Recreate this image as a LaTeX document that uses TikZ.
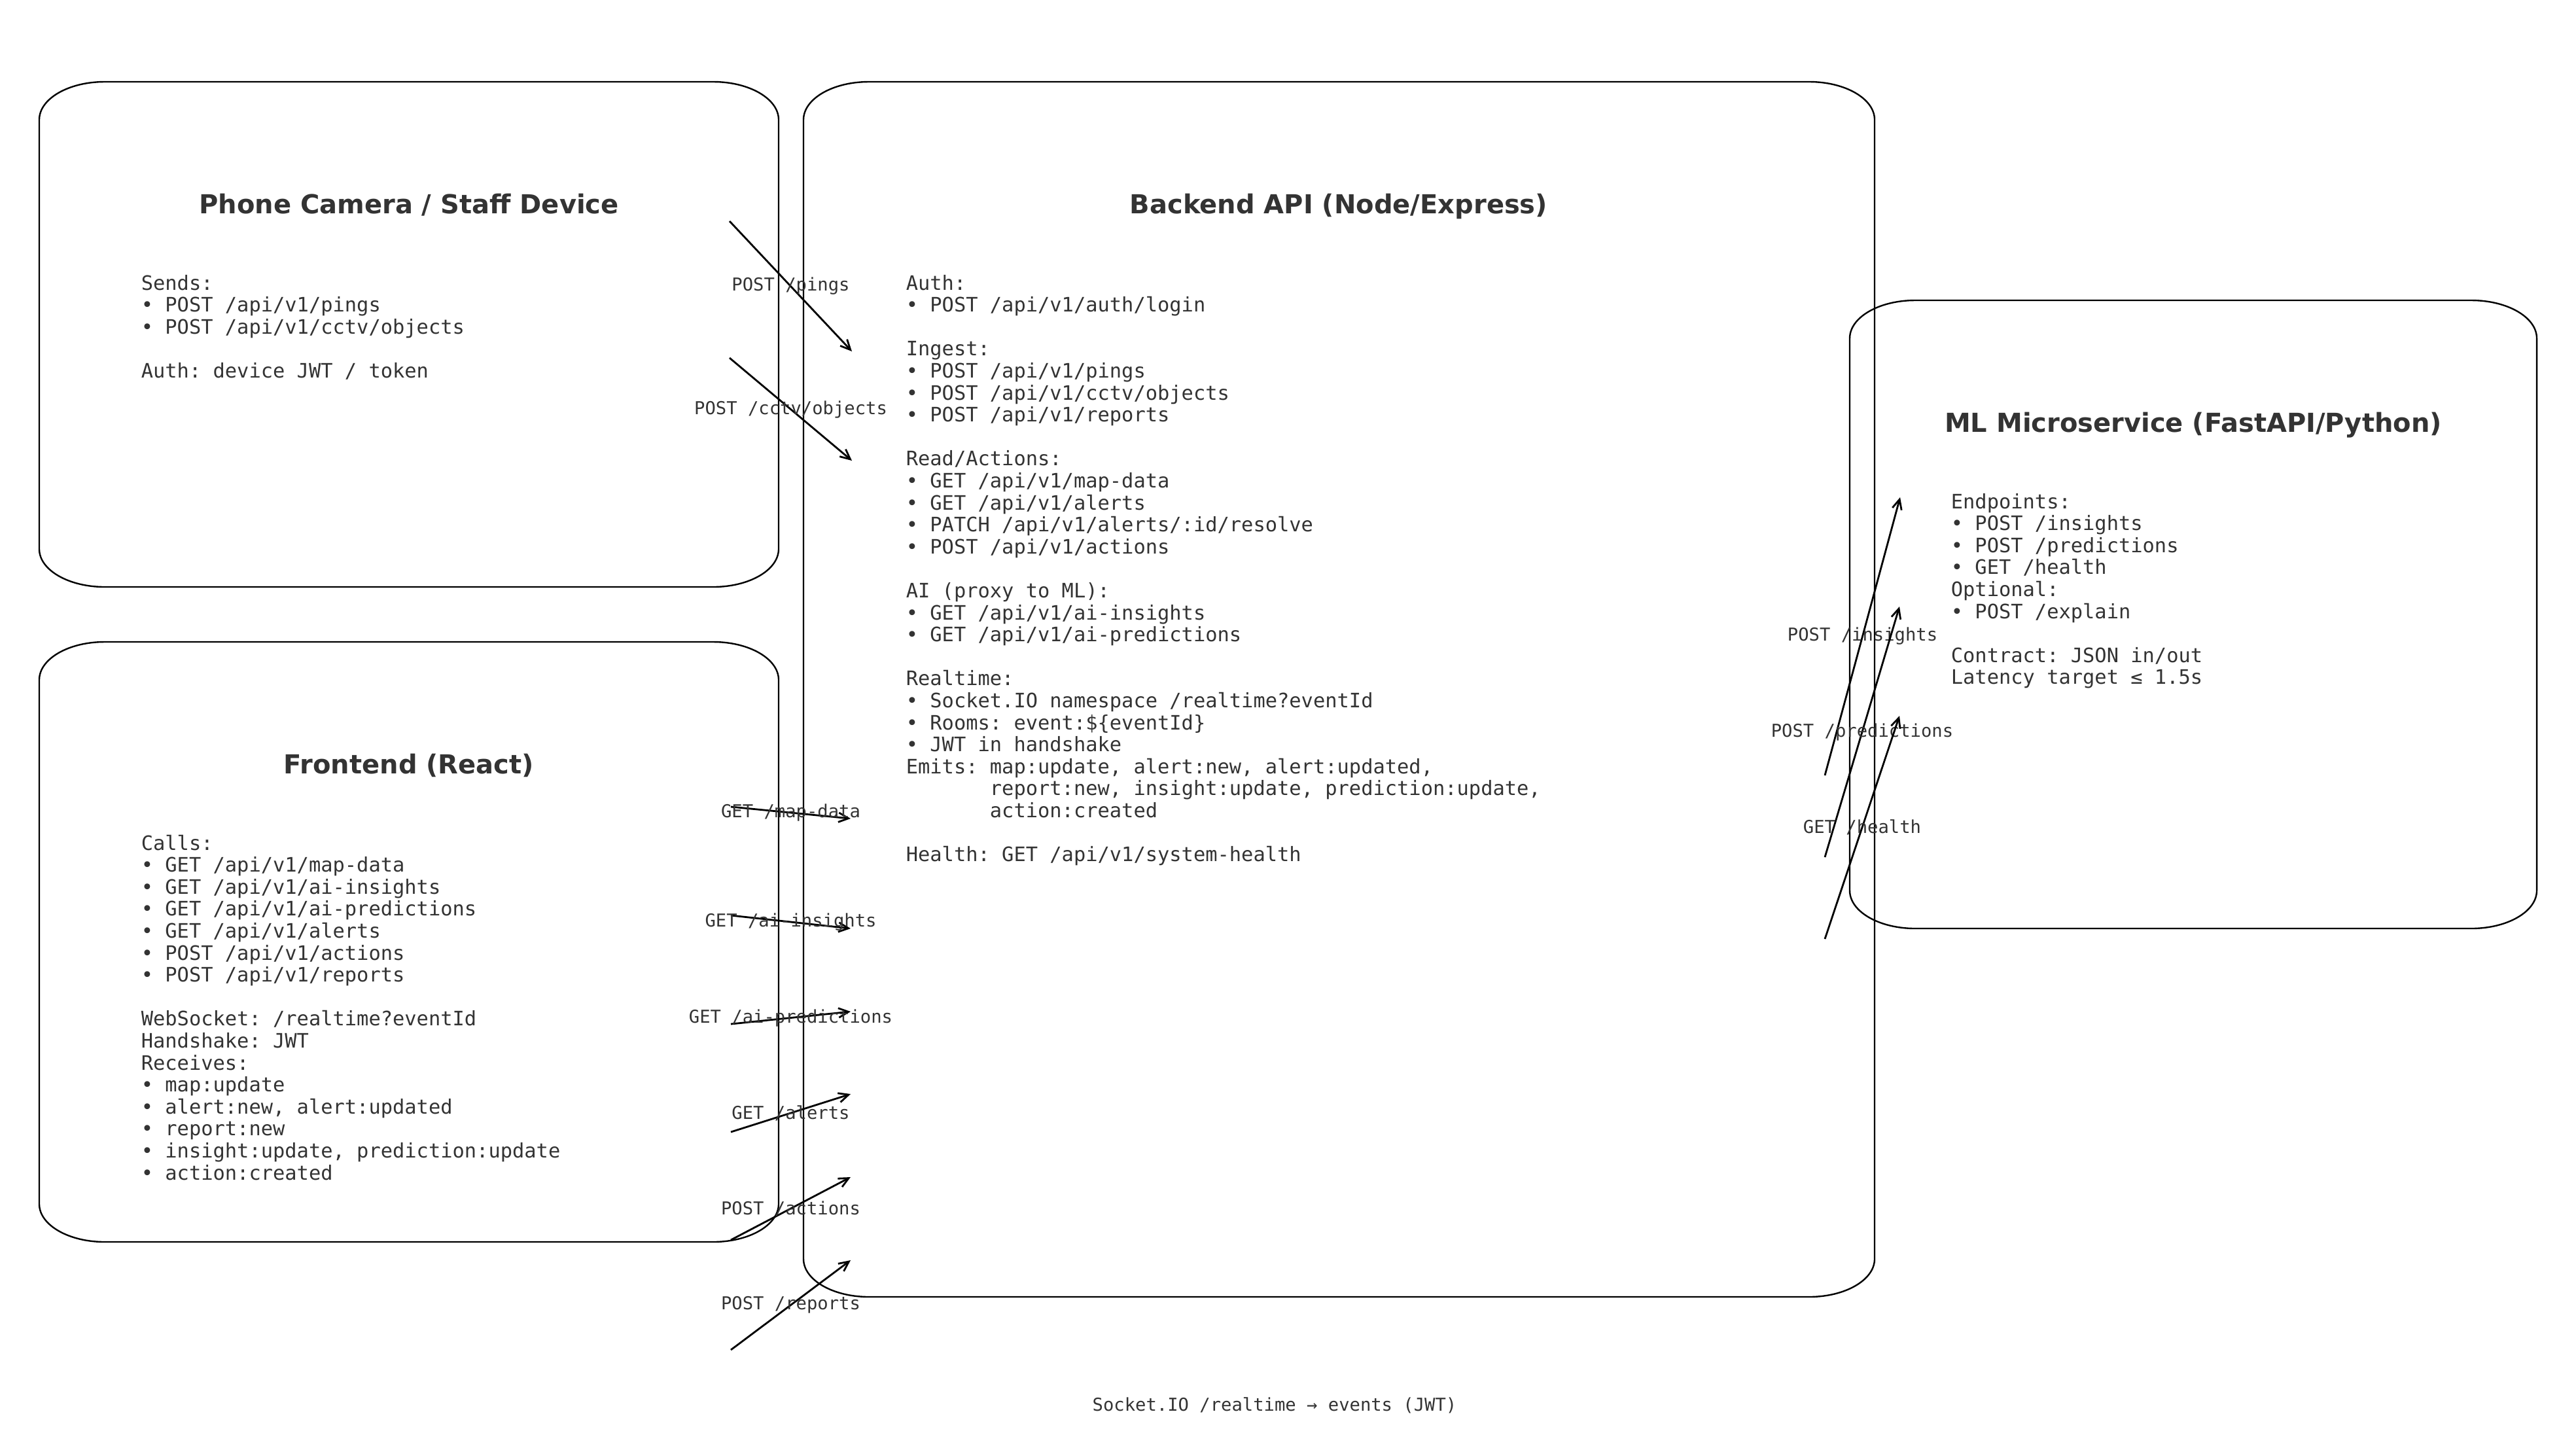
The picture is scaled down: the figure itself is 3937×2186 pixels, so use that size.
\documentclass[tikz,border=0pt]{standalone}
\usepackage{fontspec}
\setmainfont{DejaVu Sans}
\newfontfamily\monofont{DejaVu Sans Mono}
\usepackage{xcolor}
\usetikzlibrary{arrows.meta}
\definecolor{txtgray}{HTML}{333333}
\frenchspacing

\tikzset{
  boxline/.style={draw=black, line width=0.6pt},
  flow/.style={draw=black, line width=0.7pt, -{Straight Barb[length=3.8pt, width=3.6pt]}},
  ttl/.style={font=\bfseries\fontsize{10}{12}\selectfont, text=txtgray, anchor=base, inner sep=0pt},
  txt/.style={font=\monofont\fontsize{7.6}{8.4}\selectfont, text=txtgray, anchor=base west, inner sep=0pt},
  lbl/.style={font=\monofont\fontsize{6.8}{8}\selectfont, text=txtgray, inner sep=0pt},
}

% one text line of a block
\newcommand{\txl}[1]{\hbox{#1}}
% rounded box with oval corners: x1 y1 x2 y2
\newcommand{\ovbox}[4]{%
  \draw[boxline] (#1+100,#2) -- (#3-100,#2)
    arc[start angle=-90, end angle=0, x radius=100, y radius=58]
    -- (#3,#4-58)
    arc[start angle=0, end angle=90, x radius=100, y radius=58]
    -- (#1+100,#4)
    arc[start angle=90, end angle=180, x radius=100, y radius=58]
    -- (#1,#2+58)
    arc[start angle=180, end angle=270, x radius=100, y radius=58]
    -- cycle;}

\begin{document}
\begin{tikzpicture}[x=0.25pt,y=0.25pt,yscale=-1,xscale=1]
		\useasboundingbox (0,0) rectangle (3937,2186);

		%Shape: Rounded Rect (phone)
		\ovbox{60}{125}{1190}{897}
		%Shape: Rounded Rect (frontend)
		\ovbox{60}{981}{1190}{1898}
		%Shape: Rounded Rect (backend)
		\ovbox{1228}{125}{2865}{1982}
		%Shape: Rounded Rect (ml)
		\ovbox{2827}{459}{3877}{1419}

		% Text Node
		\node[ttl] (phone-ttl) at (625,326) {Phone Camera / Staff Device};
		% Text Node
		\node[txt] (phone-txt) at (215,443) {\vtop{%
			\txl{Sends:}
			\txl{• POST /api/v1/pings}
			\txl{• POST /api/v1/cctv/objects}
			\txl{}
			\txl{Auth: device JWT / token}}};

		% Text Node
		\node[ttl] (front-ttl) at (625,1182) {Frontend (React)};
		% Text Node
		\node[txt] (front-txt) at (215,1299) {\vtop{%
			\txl{Calls:}
			\txl{• GET /api/v1/map-data}
			\txl{• GET /api/v1/ai-insights}
			\txl{• GET /api/v1/ai-predictions}
			\txl{• GET /api/v1/alerts}
			\txl{• POST /api/v1/actions}
			\txl{• POST /api/v1/reports}
			\txl{}
			\txl{WebSocket: /realtime?eventId}
			\txl{Handshake: JWT}
			\txl{Receives:}
			\txl{• map:update}
			\txl{• alert:new, alert:updated}
			\txl{• report:new}
			\txl{• insight:update, prediction:update}
			\txl{• action:created}}};

		% Text Node
		\node[ttl] (back-ttl) at (2046,326) {Backend API (Node/Express)};
		% Text Node
		\node[txt] (back-txt) at (1384,443) {\vtop{%
			\txl{Auth:}
			\txl{• POST /api/v1/auth/login}
			\txl{}
			\txl{Ingest:}
			\txl{• POST /api/v1/pings}
			\txl{• POST /api/v1/cctv/objects}
			\txl{• POST /api/v1/reports}
			\txl{}
			\txl{Read/Actions:}
			\txl{• GET /api/v1/map-data}
			\txl{• GET /api/v1/alerts}
			\txl{• PATCH /api/v1/alerts/:id/resolve}
			\txl{• POST /api/v1/actions}
			\txl{}
			\txl{AI (proxy to ML):}
			\txl{• GET /api/v1/ai-insights}
			\txl{• GET /api/v1/ai-predictions}
			\txl{}
			\txl{Realtime:}
			\txl{• Socket.IO namespace /realtime?eventId}
			\txl{• Rooms: event:\$\{eventId\}}
			\txl{• JWT in handshake}
			\txl{Emits: map:update, alert:new, alert:updated,}
			\txl{\phantom{Emits:x}report:new, insight:update, prediction:update,}
			\txl{\phantom{Emits:x}action:created}
			\txl{}
			\txl{Health: GET /api/v1/system-health}}};

		% Text Node
		\node[ttl] (ml-ttl) at (3352,660) {ML Microservice (FastAPI/Python)};
		% Text Node
		\node[txt] (ml-txt) at (2981,777) {\vtop{%
			\txl{Endpoints:}
			\txl{• POST /insights}
			\txl{• POST /predictions}
			\txl{• GET /health}
			\txl{Optional:}
			\txl{• POST /explain}
			\txl{}
			\txl{Contract: JSON in/out}
			\txl{Latency target ≤ 1.5s}}};

		%Straight Lines: phone -> backend
		\coordinate (pings-a) at (1115,338);
		\coordinate (pings-b) at (1302,537);
		\coordinate (cctv-a) at (1115,547);
		\coordinate (cctv-b) at (1302,704);
		\draw[flow] (pings-a) -- node[lbl, midway] (pings-l) {POST /pings} (pings-b);
		\draw[flow] (cctv-a) -- node[lbl, midway] (cctv-l) {POST /cctv/objects} (cctv-b);

		%Straight Lines: frontend -> backend
		\coordinate (map-a) at (1117,1233);
		\coordinate (map-b) at (1300,1251);
		\coordinate (ins-a) at (1117,1399);
		\coordinate (ins-b) at (1300,1419);
		\coordinate (pred-a) at (1117,1565);
		\coordinate (pred-b) at (1300,1546);
		\coordinate (alrt-a) at (1117,1730);
		\coordinate (alrt-b) at (1300,1672);
		\coordinate (act-a) at (1117,1895);
		\coordinate (act-b) at (1300,1799);
		\coordinate (rep-a) at (1117,2063);
		\coordinate (rep-b) at (1300,1926);
		\draw[flow] (map-a) -- node[lbl, midway] (map-l) {GET /map-data} (map-b);
		\draw[flow] (ins-a) -- node[lbl, midway] (ins-l) {GET /ai-insights} (ins-b);
		\draw[flow] (pred-a) -- node[lbl, midway] (pred-l) {GET /ai-predictions} (pred-b);
		\draw[flow] (alrt-a) -- node[lbl, midway] (alrt-l) {GET /alerts} (alrt-b);
		\draw[flow] (act-a) -- node[lbl, midway] (act-l) {POST /actions} (act-b);
		\draw[flow] (rep-a) -- node[lbl, midway] (rep-l) {POST /reports} (rep-b);

		%Straight Lines: backend -> ml
		\coordinate (mlins-a) at (2789,1185);
		\coordinate (mlins-b) at (2904,760);
		\coordinate (mlpred-a) at (2789,1310);
		\coordinate (mlpred-b) at (2903,927);
		\coordinate (mlhlth-a) at (2789,1435);
		\coordinate (mlhlth-b) at (2903,1094);
		\draw[flow] (mlins-a) -- node[lbl, midway] (mlins-l) {POST /insights} (mlins-b);
		\draw[flow] (mlpred-a) -- node[lbl, midway] (mlpred-l) {POST /predictions} (mlpred-b);
		\draw[flow] (mlhlth-a) -- node[lbl, midway] (mlhlth-l) {GET /health} (mlhlth-b);

		% Text Node
		\node[lbl] (sock-cap) at (1948,2148) {Socket.IO /realtime → events (JWT)};

\end{tikzpicture}
\end{document}
